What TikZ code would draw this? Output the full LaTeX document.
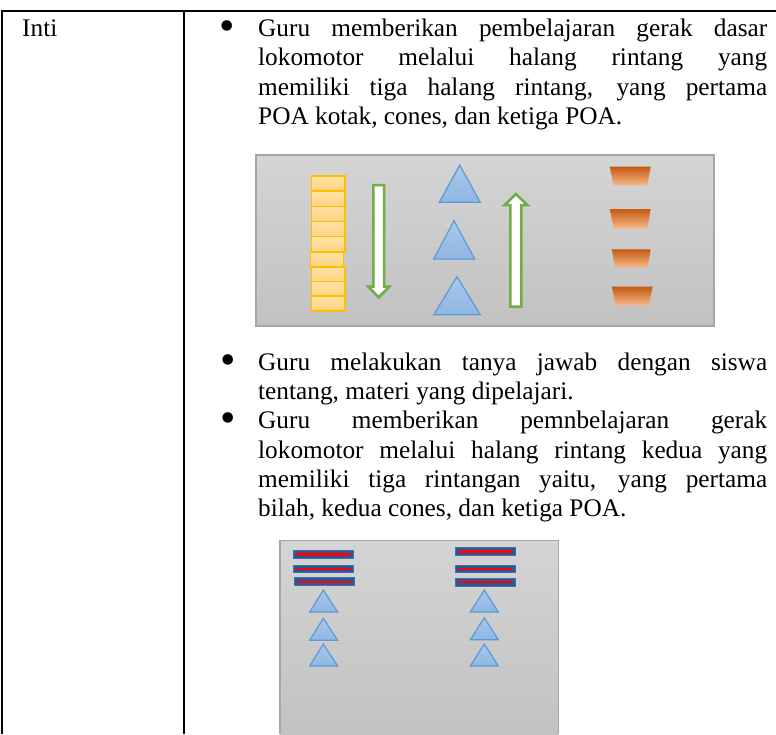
\documentclass[tikz,border=0pt]{standalone}
\usepackage{fontspec}
\setmainfont{Liberation Serif}
\definecolor{grayA}{HTML}{D4D4D4}
\definecolor{grayB}{HTML}{C2C2C2}
\definecolor{grayline}{HTML}{A6A6A6}
\definecolor{kotakA}{HTML}{FFE3A6}
\definecolor{kotakB}{HTML}{FFD27F}
\definecolor{kotakline}{HTML}{FFC000}
\definecolor{coneA}{HTML}{A9C8EC}
\definecolor{coneB}{HTML}{8FB6E3}
\definecolor{coneline}{HTML}{5B9BD5}
\definecolor{panahline}{HTML}{70AD47}
\definecolor{poaA}{HTML}{C55A11}
\definecolor{poaB}{HTML}{F8B88A}
\definecolor{bilahfill}{HTML}{2F5597}
\definecolor{bilahline}{HTML}{41719C}

\begin{document}
\begin{tikzpicture}[x=1pt,y=-1pt,
   txt/.style={inner sep=0pt,font=\fontsize{25.3}{29.5}\selectfont},
   isi/.style={txt,anchor=north west,text width=509pt,align=justify},
   titik/.style={inner sep=0pt,font=\fontsize{44}{44}\selectfont},
   tabline/.style={black,line width=2pt},
   kotakbox/.style={draw=kotakline,line width=1.5pt,top color=kotakA,bottom color=kotakB},
   conetri/.style={draw=coneline,line width=1.2pt,top color=coneA,bottom color=coneB},
   panah/.style={draw=panahline,line width=2.5pt,fill=white},
   poashape/.style={top color=poaA,bottom color=poaB},
   bilahbar/.style={draw=bilahline,line width=1pt,fill=bilahfill},
   redline/.style={red,line width=2.2pt}]
      \useasboundingbox (0,0) rectangle (776,734);
      \draw [tabline] (2,734) -- (2,11) -- (776,11);
      \draw [tabline] (184,11) -- (184,734);
      \node [txt,anchor=base west] (inti) at (22,36) {Inti};
      \node [titik] (dot1) at (227.5,30.5) {•};
      \node [isi] (isi1) at (258,15.35) {\strut Guru memberikan pembelajaran gerak dasar\linebreak lokomotor melalui halang rintang yang\linebreak memiliki tiga halang rintang, yang pertama\linebreak POA kotak, cones, dan ketiga POA.};
      \shade [top color=grayA,bottom color=grayB] (256,155) rectangle (714,326);
      \draw [grayline,line width=1.5pt] (256,155) rectangle (714,326);
      \draw [kotakbox] (311.7,176) rectangle (345,191);
      \draw [kotakbox] (311.7,191) rectangle (345,206.5);
      \draw [kotakbox] (311.7,206.5) rectangle (345,221.5);
      \draw [kotakbox] (311.7,221.5) rectangle (345,236.5);
      \draw [kotakbox] (311.7,236.5) rectangle (345,252);
      \draw [kotakbox] (310.7,252) rectangle (343.3,267);
      \draw [kotakbox] (311.7,267) rectangle (345,281.5);
      \draw [kotakbox] (311.7,281.5) rectangle (345,296);
      \draw [kotakbox] (311.7,296) rectangle (345,311);
      \draw [panah] (373.3,185) -- (384,185) -- (384,286.7) -- (389.3,286.7) -- (378.7,297.3) -- (368.3,286.7) -- (373.3,286.7) -- cycle;
      \draw [conetri] (459.7,165) -- (480.3,202.3) -- (439.3,202.3) -- cycle;
      \draw [conetri] (454,220.7) -- (474.7,259) -- (433.7,259) -- cycle;
      \draw [conetri] (457,276.7) -- (480.3,314.7) -- (433.7,314.7) -- cycle;
      \draw [panah] (510.3,306.7) -- (521.3,306.7) -- (521.3,205) -- (527.3,205) -- (515.8,194) -- (504.7,205) -- (510.3,205) -- cycle;
      \shade [poashape] (609.7,166.7) -- (650.7,166.7) -- (647.3,185.3) -- (613.7,185.3) -- cycle;
      \shade [poashape] (609.7,209) -- (650.7,209) -- (647.3,228.7) -- (613.7,228.7) -- cycle;
      \shade [poashape] (611.7,249.3) -- (650.7,249.3) -- (647.7,267.3) -- (615,267.3) -- cycle;
      \shade [poashape] (611.7,286.7) -- (652.7,286.7) -- (648.7,305.3) -- (616,305.3) -- cycle;
      \node [titik] (dot2) at (228,364.5) {•};
      \node [isi,font=\fontsize{25.3}{29.35}\selectfont] (isi2) at (258,349.45) {\strut Guru melakukan tanya jawab dengan siswa\linebreak tentang, materi yang dipelajari.};
      \node [titik] (dot3) at (228,423) {•};
      \node [isi,font=\fontsize{25.3}{29.35}\selectfont] (isi3) at (258,408.15) {\strut Guru memberikan pemnbelajaran gerak\linebreak lokomotor melalui halang rintang kedua yang\linebreak memiliki tiga rintangan yaitu, yang pertama\linebreak bilah, kedua cones, dan ketiga POA.};
      \shade [top color=grayA,bottom color=grayB] (280,540.3) rectangle (558.7,734);
      \draw [grayline,line width=1.5pt] (280,734) -- (280,540.3) -- (558.7,540.3) -- (558.7,734);
      \draw [bilahbar] (293.3,550.7) rectangle (353.3,558.3);
      \draw [redline] (297,554.5) -- (349.5,554.5);
      \draw [bilahbar] (293.3,565) rectangle (353.3,572.7);
      \draw [redline] (297,568.8) -- (349.5,568.8);
      \draw [bilahbar] (294.3,577.7) rectangle (354.7,585.7);
      \draw [redline] (298,581.7) -- (351,581.7);
      \draw [bilahbar] (455.3,547.7) rectangle (515.7,555.3);
      \draw [redline] (459,551.5) -- (512,551.5);
      \draw [bilahbar] (455.3,565) rectangle (515.7,572.7);
      \draw [redline] (459,568.8) -- (512,568.8);
      \draw [bilahbar] (455.3,578.3) rectangle (515.7,586);
      \draw [redline] (459,582.2) -- (512,582.2);
      \draw [conetri] (323.3,590) -- (337.7,612) -- (309.7,612) -- cycle;
      \draw [conetri] (323.3,618.3) -- (337.7,640.3) -- (309.7,640.3) -- cycle;
      \draw [conetri] (323.3,644) -- (337.7,666) -- (309.7,666) -- cycle;
      \draw [conetri] (484.3,590) -- (498.3,612) -- (470.3,612) -- cycle;
      \draw [conetri] (484.3,617.7) -- (498.3,639.7) -- (470.3,639.7) -- cycle;
      \draw [conetri] (484.3,644) -- (498.3,666) -- (470.3,666) -- cycle;
\end{tikzpicture}
\end{document}
